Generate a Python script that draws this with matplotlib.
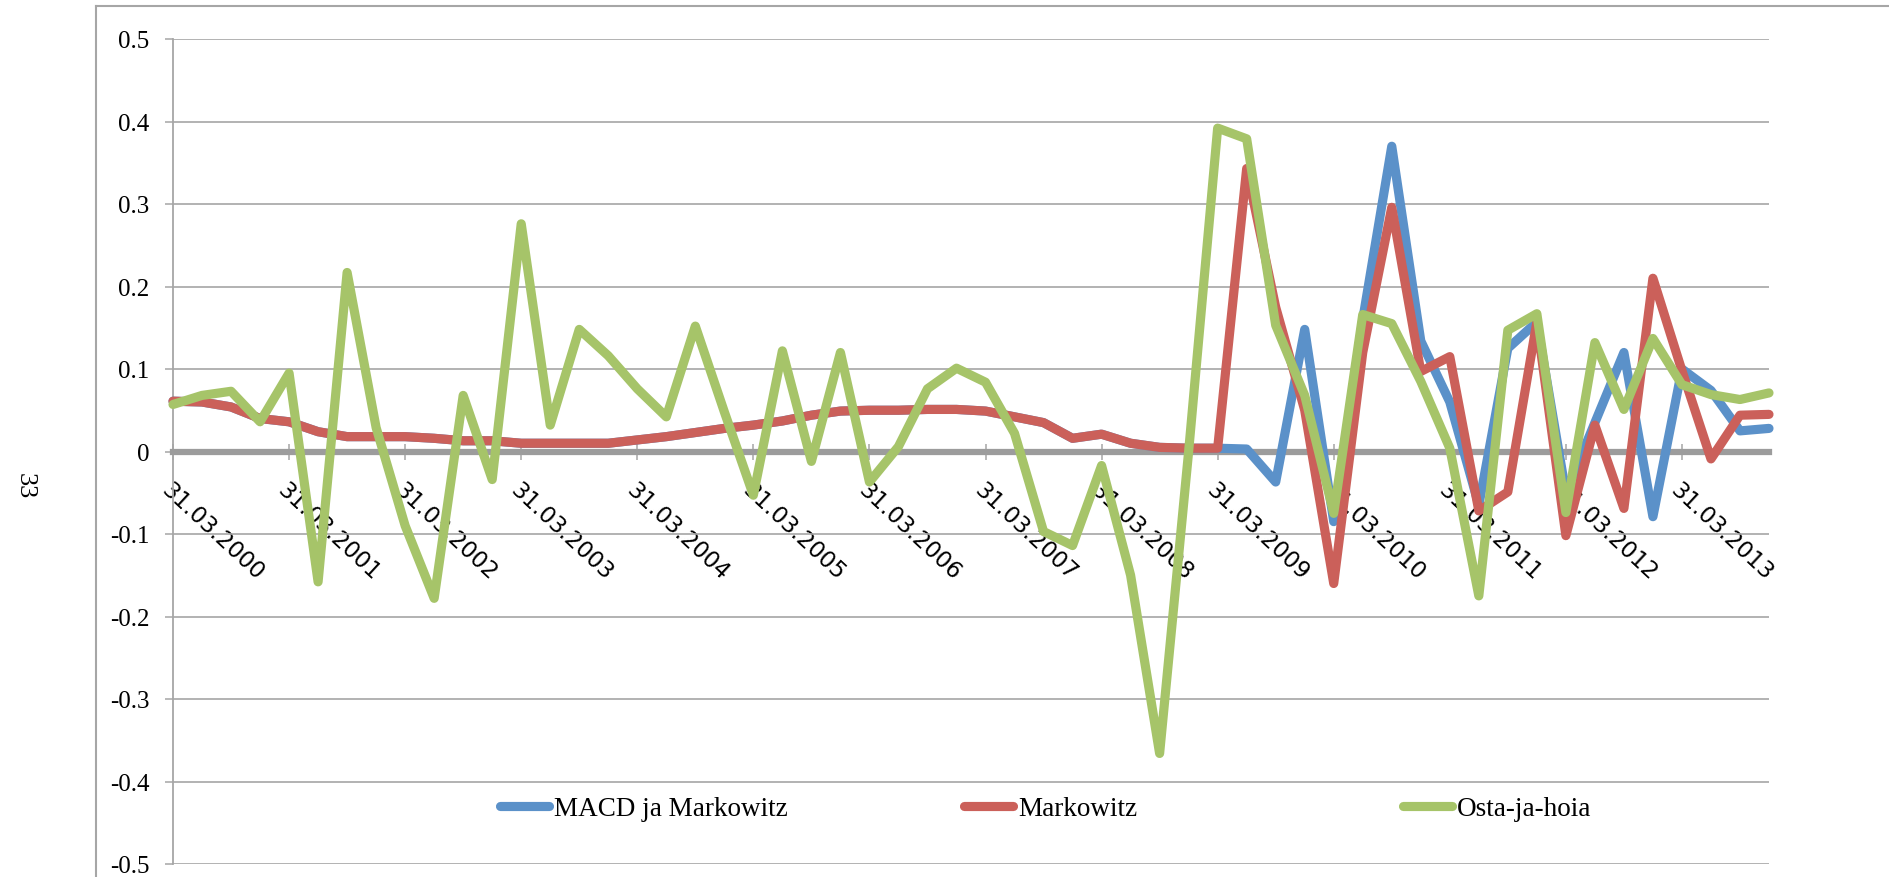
import matplotlib
matplotlib.use("Agg")
import matplotlib.pyplot as plt
from matplotlib.lines import Line2D
import numpy as np

# ---------------- data ----------------
series_names = ["MACD ja Markowitz", "Markowitz", "Osta-ja-hoia"]

macd_markowitz = [
    0.061, 0.060, 0.054, 0.040, 0.036, 0.024, 0.018, 0.018, 0.018, 0.016,
    0.013, 0.013, 0.010, 0.010, 0.010, 0.010, 0.014, 0.018, 0.023, 0.028,
    0.032, 0.037, 0.044, 0.049, 0.050, 0.050, 0.051, 0.051, 0.049, 0.042,
    0.035, 0.016, 0.021, 0.010, 0.005, 0.004, 0.004, 0.003, -0.037, 0.148,
    -0.085, 0.160, 0.370, 0.134, 0.060, -0.065, 0.125, 0.157, -0.050, 0.035,
    0.120, -0.079, 0.100, 0.074, 0.025, 0.028,
]

markowitz = [
    0.061, 0.060, 0.054, 0.040, 0.036, 0.024, 0.018, 0.018, 0.018, 0.016,
    0.013, 0.013, 0.010, 0.010, 0.010, 0.010, 0.014, 0.018, 0.023, 0.028,
    0.032, 0.037, 0.044, 0.049, 0.050, 0.050, 0.051, 0.051, 0.049, 0.042,
    0.035, 0.016, 0.021, 0.010, 0.005, 0.004, 0.004, 0.343, 0.175, 0.050,
    -0.160, 0.120, 0.296, 0.097, 0.115, -0.072, -0.049, 0.157, -0.102, 0.032,
    -0.069, 0.210, 0.098, -0.009, 0.044, 0.045,
]

osta_ja_hoia = [
    0.057, 0.068, 0.073, 0.036, 0.095, -0.158, 0.217, 0.029, -0.090, -0.178,
    0.068, -0.034, 0.276, 0.032, 0.148, 0.116, 0.076, 0.042, 0.152, 0.048,
    -0.053, 0.122, -0.012, 0.120, -0.037, 0.006, 0.076, 0.101, 0.084, 0.022,
    -0.097, -0.114, -0.017, -0.150, -0.366, 0.000, 0.392, 0.379, 0.153, 0.068,
    -0.075, 0.166, 0.155, 0.085, 0.004, -0.175, 0.147, 0.167, -0.074, 0.132,
    0.051, 0.137, 0.081, 0.069, 0.063, 0.071,
]

tick_labels = [
    "31.03.2000", "31.03.2001", "31.03.2002", "31.03.2003", "31.03.2004",
    "31.03.2005", "31.03.2006", "31.03.2007", "31.03.2008", "31.03.2009",
    "31.03.2010", "31.03.2011", "31.03.2012", "31.03.2013",
]
tick_quarter_index = [0, 4, 8, 12, 16, 20, 24, 28, 32, 36, 40, 44, 48, 52]

y_ticks = [-0.5, -0.4, -0.3, -0.2, -0.1, 0.0, 0.1, 0.2, 0.3, 0.4, 0.5]
y_tick_labels = ["-0.5", "-0.4", "-0.3", "-0.2", "-0.1", "0", "0.1", "0.2", "0.3", "0.4", "0.5"]

page_number = "33"

# ---------------- style ----------------
colors = ["#5B91C9", "#CB605A", "#A6C469"]
grid_gray = "#A6A6A6"
axis_gray = "#9C9C9C"
serif = ["Liberation Serif", "DejaVu Serif"]
sans = ["DejaVu Sans"]

W, H = 1889, 878
fig = plt.figure(figsize=(W / 100, H / 100), dpi=100)
ax_left, ax_right, ax_top, ax_bottom = 173, 1769, 40, 865
ax = fig.add_axes([ax_left / W, 1 - ax_bottom / H, (ax_right - ax_left) / W,
                   (ax_bottom - ax_top) / H])

x = np.arange(len(osta_ja_hoia))
lw = 6.6
lines = []
for vals, c, name in zip([macd_markowitz, markowitz, osta_ja_hoia], colors, series_names):
    ln, = ax.plot(x, vals, color=c, lw=lw, solid_joinstyle="round",
                  solid_capstyle="round", label=name, zorder=3, clip_on=False)
    lines.append(ln)

ax.set_xlim(0, len(osta_ja_hoia) - 1)
ax.set_ylim(-0.5, 0.5)

# spines
for s in ["top", "right"]:
    ax.spines[s].set_visible(False)
ax.spines["bottom"].set_position(("data", 0))
ax.spines["bottom"].set_color(axis_gray)
ax.spines["bottom"].set_linewidth(4.5)
ax.spines["bottom"].set_zorder(2.5)
ax.spines["left"].set_color(grid_gray)
ax.spines["left"].set_linewidth(1.3)

# y axis
ax.set_yticks(y_ticks)
ax.set_yticklabels(y_tick_labels)
ax.tick_params(axis="y", direction="out", length=6, width=1.1, color=grid_gray,
               pad=11, labelsize=18)
for lab in ax.get_yticklabels():
    lab.set_family(serif)
ax.yaxis.grid(True, color=grid_gray, linewidth=1.2, zorder=0)
ax.set_axisbelow(True)

# x axis
ax.set_xticks(tick_quarter_index)
ax.set_xticklabels(tick_labels)
ax.tick_params(axis="x", direction="inout", length=12, width=1.1, color=grid_gray,
               pad=13, labelsize=16.5)
for lab in ax.get_xticklabels():
    lab.set_family(sans)
    lab.set_rotation(-43)
    lab.set_ha("left")
    lab.set_va("top")
    lab.set_rotation_mode("anchor")

# legend: three evenly spaced entries
leg_pos = [(500 - ax_left) / (ax_right - ax_left),
           (964 - ax_left) / (ax_right - ax_left),
           (1403 - ax_left) / (ax_right - ax_left)]
leg_y = (ax_bottom - 810) / (ax_bottom - ax_top)
legs = []
for ln, name, px in zip(lines, series_names, leg_pos):
    lg = ax.legend([ln], [name], loc="center left", bbox_to_anchor=(px, leg_y),
                   frameon=False, prop={"family": serif, "size": 19.5},
                   handlelength=1.8, handletextpad=0.2, borderpad=0,
                   borderaxespad=0)
    legs.append(lg)
for lg in legs[:-1]:
    ax.add_artist(lg)

# outer chart border (left and top edges visible)
fig.add_artist(Line2D([96 / W, 96 / W], [0, 1 - 7 / H], transform=fig.transFigure,
                      color=grid_gray, lw=1.5))
fig.add_artist(Line2D([96 / W, 1], [1 - 7 / H, 1 - 7 / H], transform=fig.transFigure,
                      color=grid_gray, lw=1.5))

# page number at left
fig.text(25 / W, 1 - 486 / H, page_number, rotation=-90, fontsize=19,
         family=serif, ha="center", va="center")

fig.savefig("out.png", dpi=100)
